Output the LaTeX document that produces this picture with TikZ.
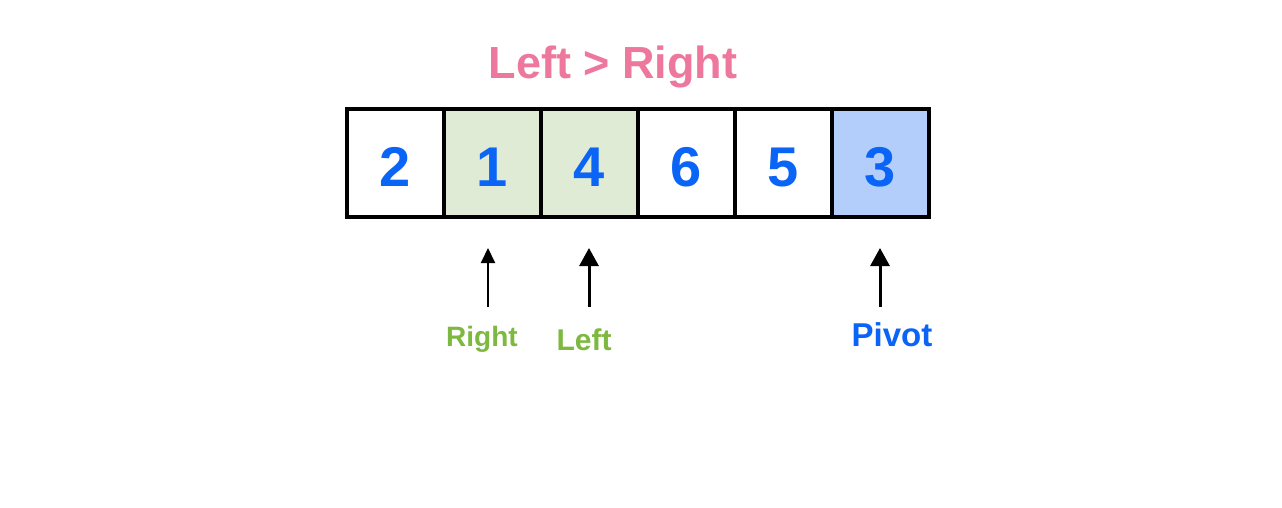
\documentclass[tikz,border=0pt]{standalone}
\usepackage{fontspec}
\setmainfont{Liberation Sans}
\usetikzlibrary{arrows.meta}
\usetikzlibrary{calc}
\definecolor{titlepink}{RGB}{238,119,158}
\definecolor{ptrgreen}{RGB}{125,185,65}
\definecolor{numblue}{RGB}{10,100,245}
\definecolor{cellgreen}{RGB}{224,235,213}
\definecolor{cellblue}{RGB}{179,206,250}

\begin{document}
\begin{tikzpicture}[x=1pt,y=1pt,font=\bfseries,
	cell/.style={draw,line width=3.5pt,minimum width=97pt,minimum height=108pt,inner sep=0pt,text height=46pt,text depth=0pt,text=numblue,font=\fontsize{56}{56}\selectfont\bfseries},
	ptr/.style={-{Triangle[length=18pt,width=19pt]},line width=3pt}]
	\useasboundingbox (0,0) rectangle (1282,-508);
	\node[text=titlepink,font=\fontsize{45}{45}\selectfont\bfseries] (title) at (613,-67) {Left > Right};
	\foreach \number/\position/\shade in {2/1/white, 1/2/cellgreen, 4/3/cellgreen, 6/4/white, 5/5/white, 3/6/cellblue} {
		\node[cell,fill=\shade] (c\position) at ({347+97*(\position-0.5)},-163) {\number};
	}
	\node[text=ptrgreen,font=\fontsize{28}{28}\selectfont\bfseries] (right) at (482,-339) {Right};
	\node[text=ptrgreen,font=\fontsize{30}{30}\selectfont\bfseries] (left) at (584,-340) {Left};
	\node[text=numblue,font=\fontsize{33}{33}\selectfont\bfseries] (pivot) at (892,-335) {Pivot};
	\foreach \name/\xpos in {r/488, l/589, p/880} {
		\coordinate (\name base) at (\xpos,-307);
		\coordinate (\name tip) at (\xpos,-248);
	}
	\draw[-{Triangle[length=15pt,width=14pt]},line width=2pt] (rbase) -- (rtip);
	\draw[ptr] (lbase) -- (ltip);
	\draw[ptr] (pbase) -- (ptip);
\end{tikzpicture}
\end{document}
